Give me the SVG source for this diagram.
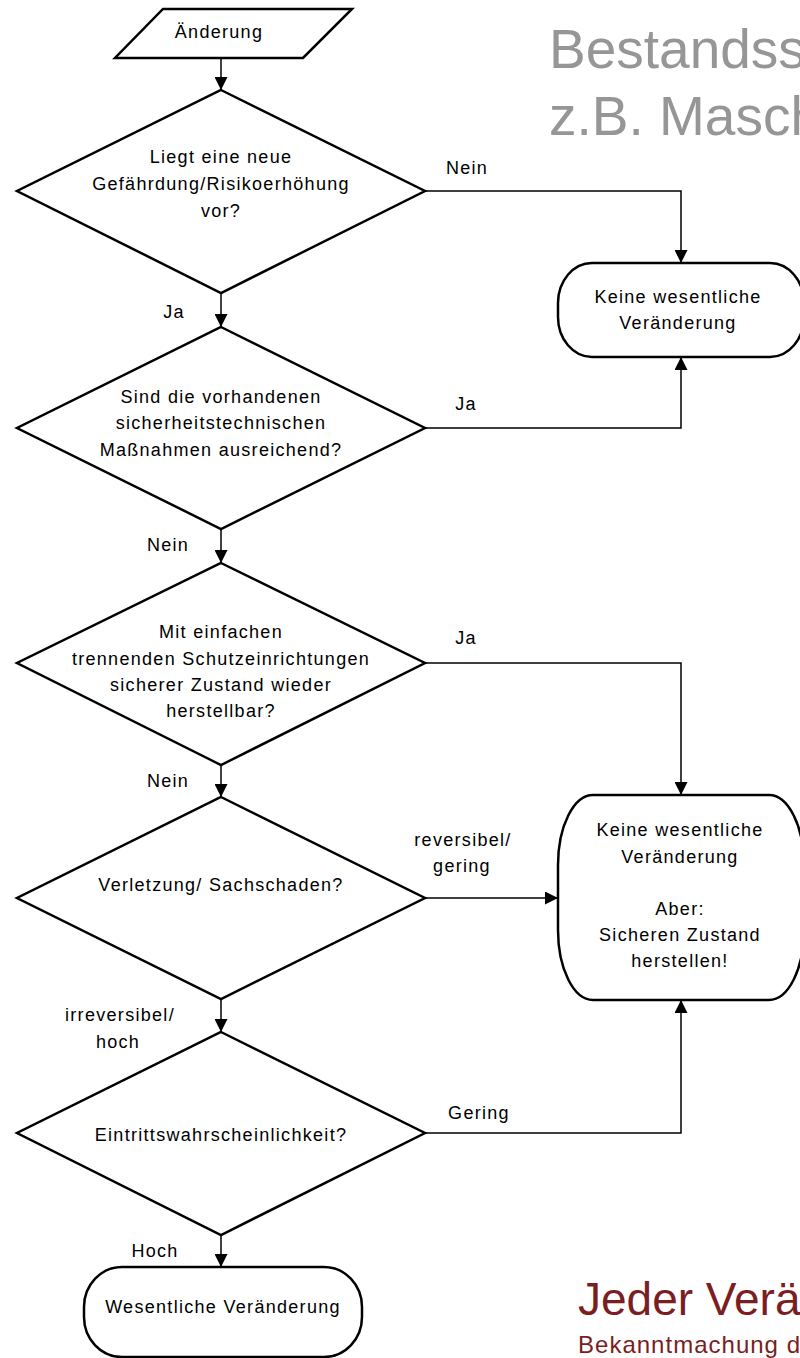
<svg xmlns="http://www.w3.org/2000/svg" width="800" height="1358" viewBox="0 0 800 1358">
<defs>
<style>
.shape{fill:#fff;stroke:#000;stroke-width:2.5}
.conn{fill:none;stroke:#000;stroke-width:1.5}
.t{font-family:"Liberation Sans",Arial,sans-serif;font-size:18px;letter-spacing:1.3px;fill:#000;text-anchor:middle}
.lbl{font-family:"Liberation Sans",Arial,sans-serif;font-size:18px;letter-spacing:1.3px;fill:#000;text-anchor:middle}
.title{font-family:"Liberation Sans",Arial,sans-serif;font-size:55px;fill:#969696}
.red{font-family:"Liberation Sans",Arial,sans-serif;fill:#7a1e22}
</style>
<marker id="arr" viewBox="0 0 12 12" refX="12" refY="6" markerWidth="13" markerHeight="13" markerUnits="userSpaceOnUse" orient="auto">
<path d="M0,0 L12,6 L0,12 Z" fill="#000"/>
</marker>
</defs>
<rect width="800" height="1358" fill="#fff"/>

<text class="title" x="549" y="68">Bestandss</text>
<text class="title" x="549" y="135">z.B. Masch</text>
<text class="red" x="578" y="1315" font-size="46">Jeder Verä</text>
<text class="red" x="578" y="1353" font-size="24" textLength="222">Bekanntmachung d</text>

<g id="connectors">
<line class="conn" x1="221" y1="58" x2="221" y2="90" marker-end="url(#arr)"/>
<polyline class="conn" points="425,191 681,191 681,263" marker-end="url(#arr)"/>
<line class="conn" x1="221" y1="293" x2="221" y2="327" marker-end="url(#arr)"/>
<polyline class="conn" points="425,428 681,428 681,357" marker-end="url(#arr)"/>
<line class="conn" x1="221" y1="529" x2="221" y2="563" marker-end="url(#arr)"/>
<polyline class="conn" points="425,663 681,663 681,795" marker-end="url(#arr)"/>
<line class="conn" x1="221" y1="765" x2="221" y2="797" marker-end="url(#arr)"/>
<line class="conn" x1="425" y1="898" x2="558" y2="898" marker-end="url(#arr)"/>
<line class="conn" x1="221" y1="999" x2="221" y2="1032" marker-end="url(#arr)"/>
<polyline class="conn" points="425,1133 681,1133 681,1000" marker-end="url(#arr)"/>
<line class="conn" x1="221" y1="1235" x2="221" y2="1267" marker-end="url(#arr)"/>
<text class="lbl" x="467" y="174">Nein</text>
<text class="lbl" x="174" y="318">Ja</text>
<text class="lbl" x="466" y="410">Ja</text>
<text class="lbl" x="168" y="551">Nein</text>
<text class="lbl" x="466" y="644">Ja</text>
<text class="lbl" x="168" y="787">Nein</text>
<text class="lbl" x="463" y="846">reversibel/</text>
<text class="lbl" x="462" y="872">gering</text>
<text class="lbl" x="120" y="1021">irreversibel/</text>
<text class="lbl" x="118" y="1048">hoch</text>
<text class="lbl" x="479" y="1119">Gering</text>
<text class="lbl" x="155" y="1257">Hoch</text>
</g>

<g id="start">
<polygon class="shape" points="163,9 352,9 303,58 115,58"/>
<text class="t" x="219" y="38">Änderung</text>
</g>

<g id="d1">
<polygon class="shape" points="221,90 425,191 221,293 17,191"/>
<text class="t" x="221" y="163">Liegt eine neue</text>
<text class="t" x="221" y="190">Gefährdung/Risikoerhöhung</text>
<text class="t" x="221" y="217">vor?</text>
</g>

<g id="end1">
<rect class="shape" x="558" y="263" width="246" height="94" rx="34" ry="40"/>
<text class="t" x="678" y="303">Keine wesentliche</text>
<text class="t" x="678" y="329">Veränderung</text>
</g>

<g id="d2">
<polygon class="shape" points="221,327 425,428 221,529 17,428"/>
<text class="t" x="221" y="403">Sind die vorhandenen</text>
<text class="t" x="221" y="429">sicherheitstechnischen</text>
<text class="t" x="221" y="456">Maßnahmen ausreichend?</text>
</g>

<g id="d3">
<polygon class="shape" points="221,563 425,663 221,765 17,663"/>
<text class="t" x="221" y="638">Mit einfachen</text>
<text class="t" x="221" y="665">trennenden Schutzeinrichtungen</text>
<text class="t" x="221" y="691">sicherer Zustand wieder</text>
<text class="t" x="221" y="717">herstellbar?</text>
</g>

<g id="d4">
<polygon class="shape" points="221,797 425,898 221,999 17,898"/>
<text class="t" x="221" y="891">Verletzung/ Sachschaden?</text>
</g>

<g id="end2">
<rect class="shape" x="558" y="795" width="246" height="205" rx="35" ry="70"/>
<text class="t" x="680" y="836">Keine wesentliche</text>
<text class="t" x="680" y="863">Veränderung</text>
<text class="t" x="680" y="915">Aber:</text>
<text class="t" x="680" y="941">Sicheren Zustand</text>
<text class="t" x="680" y="967">herstellen!</text>
</g>

<g id="d5">
<polygon class="shape" points="221,1032 425,1133 221,1235 17,1133"/>
<text class="t" x="221" y="1141">Eintrittswahrscheinlichkeit?</text>
</g>

<g id="end3">
<rect class="shape" x="84" y="1267" width="278" height="90" rx="38" ry="40"/>
<text class="t" x="223" y="1313">Wesentliche Veränderung</text>
</g>
</svg>
